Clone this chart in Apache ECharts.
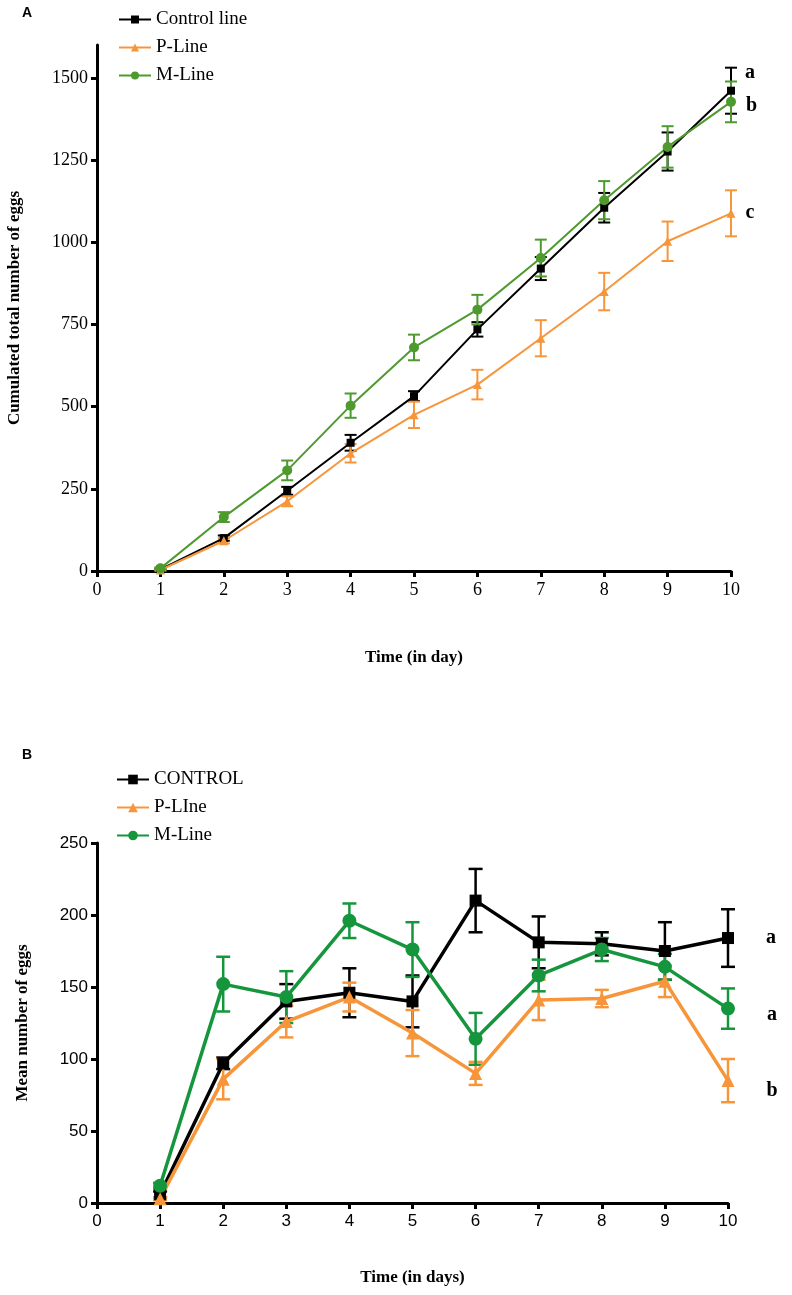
<!DOCTYPE html>
<html>
<head>
<meta charset="utf-8">
<script src="https://cdn.jsdelivr.net/npm/echarts@6/dist/echarts.min.js"></script>
<style>
html,body{margin:0;padding:0;background:#fff;}
#c{width:792px;height:1295px;}
</style>
</head>
<body>
<div id="c"></div>
<script>
// ---------- DATA ----------
const days = [1, 2, 3, 4, 5, 6, 7, 8, 9, 10];
const xTicks = [0, 1, 2, 3, 4, 5, 6, 7, 8, 9, 10];

// Panel A: cumulated total number of eggs
const seriesNamesA = ['Control line', 'P-Line', 'M-Line'];
const controlA = [5, 100, 244, 390, 532, 735, 920, 1105, 1276, 1461];
const controlErrA = [2, 8, 12, 24, 15, 22, 35, 45, 58, 70];
const pLineA = [3, 92, 212, 358, 475, 567, 708, 850, 1003, 1088];
const pLineErrA = [2, 8, 15, 28, 40, 45, 55, 57, 60, 70];
const mLineA = [8, 164, 306, 503, 680, 795, 952, 1128, 1290, 1427];
const mLineErrA = [3, 15, 30, 37, 39, 45, 56, 58, 63, 62];
const lettersA = ['a', 'c', 'b'];
const yTicksA = [0, 250, 500, 750, 1000, 1250, 1500];

// Panel B: mean number of eggs
const seriesNamesB = ['CONTROL', 'P-LIne', 'M-Line'];
const controlB = [6, 97, 140, 146, 140, 210, 181, 180, 175, 184];
const controlErrB = [2, 4, 12, 17, 18, 22, 18, 8, 20, 20];
const pLineB = [3, 86, 126, 143, 118, 90, 141, 142, 154, 85];
const pLineErrB = [1, 14, 11, 10, 16, 8, 14, 6, 11, 15];
const mLineB = [12, 152, 143, 196, 176, 114, 158, 176, 164, 135];
const mLineErrB = [2, 19, 18, 12, 19, 18, 11, 8, 9, 14];
const lettersB = ['a', 'b', 'a'];
const yTicksB = [0, 50, 100, 150, 200, 250];

// ---------- STYLE ----------
const colorsA = ['#000000', '#F7953B', '#4E9A2F'];
const colorsB = ['#000000', '#F7953B', '#15963D'];
const symbolsA = ['rect', 'triangle', 'circle'];
const symSizeA = [8, 9, 10];
const symSizeB = [12, 13, 14];
const letterOffsetA = [[8, -18], [8, 0], [8, 4]];
const letterOffsetB = [[30, 0], [30, 10], [30, 6]];

const serif = '"Liberation Serif", "Times New Roman", serif';
const sans = '"Liberation Sans", Arial, sans-serif';

function errTriples(vals, errs) { return days.map((d, i) => [d, vals[i], errs[i]]); }

function lineData(vals, letter, offset, size) {
  return days.map((d, i) => {
    if (i === vals.length - 1) {
      return {
        value: [d, vals[i]],
        label: {
          show: true, formatter: letter, position: 'right', distance: 2,
          offset: offset, fontFamily: serif, fontWeight: 'bold', fontSize: size, color: '#000'
        }
      };
    }
    return [d, vals[i]];
  });
}

function errSeries(name, data, color, idx, width, cap) {
  return {
    type: 'custom', name: name, xAxisIndex: idx, yAxisIndex: idx,
    data: data, z: 3, silent: true,
    encode: { x: 0, y: 1 },
    renderItem: function (params, api) {
      const x = api.value(0), y = api.value(1), e = api.value(2);
      const top = api.coord([x, y + e]);
      const bot = api.coord([x, y - e]);
      const st = { stroke: color, lineWidth: width };
      return {
        type: 'group',
        children: [
          { type: 'line', shape: { x1: top[0], y1: top[1], x2: bot[0], y2: bot[1] }, style: st },
          { type: 'line', shape: { x1: top[0] - cap, y1: top[1], x2: top[0] + cap, y2: top[1] }, style: st },
          { type: 'line', shape: { x1: bot[0] - cap, y1: bot[1], x2: bot[0] + cap, y2: bot[1] }, style: st }
        ]
      };
    }
  };
}

const valsA = [controlA, pLineA, mLineA];
const errsA = [controlErrA, pLineErrA, mLineErrA];
const valsB = [controlB, pLineB, mLineB];
const errsB = [controlErrB, pLineErrB, mLineErrB];

const series = [];
seriesNamesA.forEach((n, k) => {
  series.push(errSeries('errA|' + n, errTriples(valsA[k], errsA[k]), colorsA[k], 0, 2, 6));
});
seriesNamesA.forEach((n, k) => {
  series.push({
    type: 'line', name: 'A|' + n, xAxisIndex: 0, yAxisIndex: 0,
    data: lineData(valsA[k], lettersA[k], letterOffsetA[k], 20),
    symbol: symbolsA[k], symbolSize: symSizeA[k], showAllSymbol: true,
    lineStyle: { color: colorsA[k], width: 2 },
    itemStyle: { color: colorsA[k] }, z: 4, animation: false
  });
});
seriesNamesB.forEach((n, k) => {
  series.push(errSeries('errB|' + n, errTriples(valsB[k], errsB[k]), colorsB[k], 1, 2.5, 7));
});
seriesNamesB.forEach((n, k) => {
  series.push({
    type: 'line', name: 'B|' + n, xAxisIndex: 1, yAxisIndex: 1,
    data: lineData(valsB[k], lettersB[k], letterOffsetB[k], 20),
    symbol: symbolsA[k], symbolSize: symSizeB[k], showAllSymbol: true,
    lineStyle: { color: colorsB[k], width: 3.5 },
    itemStyle: { color: colorsB[k] }, z: 4, animation: false
  });
});

const axisLineStyle = { lineStyle: { color: '#000', width: 3 } };
const tickStyle = { show: true, length: 6, inside: false, lineStyle: { color: '#000', width: 3 } };
const plain = v => String(v);

const option = {
  backgroundColor: '#fff',
  animation: false,
  grid: [
    { left: 97, top: 45, width: 634, height: 526, containLabel: false, outerBoundsMode: 'none' },
    { left: 97, top: 843, width: 631, height: 360, containLabel: false, outerBoundsMode: 'none' }
  ],
  legend: [
    {
      data: seriesNamesA.map(n => 'A|' + n),
      orient: 'vertical', left: 113, top: 5, itemGap: 9,
      itemWidth: 32, itemHeight: 10,
      formatter: n => n.split('|')[1],
      textStyle: { fontFamily: serif, fontSize: 19, color: '#000' }
    },
    {
      data: seriesNamesB.map(n => 'B|' + n),
      orient: 'vertical', left: 111, top: 765, itemGap: 9,
      itemWidth: 32, itemHeight: 12,
      formatter: n => n.split('|')[1],
      textStyle: { fontFamily: serif, fontSize: 19, color: '#000' }
    }
  ],
  xAxis: [
    {
      type: 'value', gridIndex: 0, min: 0, max: 10, interval: 1,
      axisLine: axisLineStyle, axisTick: tickStyle, splitLine: { show: false },
      axisLabel: { customValues: xTicks, formatter: plain, fontFamily: serif, fontSize: 18, color: '#000', margin: 10 },
      name: 'Time (in day)', nameLocation: 'middle', nameGap: 78,
      nameTextStyle: { fontFamily: serif, fontWeight: 'bold', fontSize: 17, color: '#000' }
    },
    {
      type: 'value', gridIndex: 1, min: 0, max: 10, interval: 1,
      axisLine: axisLineStyle, axisTick: tickStyle, splitLine: { show: false },
      axisLabel: { customValues: xTicks, formatter: plain, fontFamily: sans, fontSize: 17, color: '#000', margin: 10 },
      name: 'Time (in days)', nameLocation: 'middle', nameGap: 66,
      nameTextStyle: { fontFamily: serif, fontWeight: 'bold', fontSize: 17, color: '#000' }
    }
  ],
  yAxis: [
    {
      type: 'value', gridIndex: 0, min: 0, max: 1600,
      axisLine: { show: true, lineStyle: { color: '#000', width: 3 } },
      axisTick: Object.assign({ customValues: yTicksA }, tickStyle),
      splitLine: { show: false },
      axisLabel: { customValues: yTicksA, formatter: plain, fontFamily: serif, fontSize: 18, color: '#000', margin: 9 },
      name: 'Cumulated total number of eggs', nameLocation: 'middle', nameGap: 74, nameRotate: 90,
      nameTextStyle: { fontFamily: serif, fontWeight: 'bold', fontSize: 17, color: '#000' }
    },
    {
      type: 'value', gridIndex: 1, min: 0, max: 250, interval: 50,
      axisLine: { show: true, lineStyle: { color: '#000', width: 3 } },
      axisTick: tickStyle, splitLine: { show: false },
      axisLabel: { formatter: plain, fontFamily: sans, fontSize: 17, color: '#000', margin: 9 },
      name: 'Mean number of eggs', nameLocation: 'middle', nameGap: 66, nameRotate: 90,
      nameTextStyle: { fontFamily: serif, fontWeight: 'bold', fontSize: 17, color: '#000' }
    }
  ],
  graphic: [
    { type: 'text', left: 22, top: 6, style: { text: 'A', font: 'bold 14px ' + sans, fill: '#000' } },
    { type: 'text', left: 22, top: 748, style: { text: 'B', font: 'bold 14px ' + sans, fill: '#000' } }
  ],
  series: series
};

const chart = echarts.init(document.getElementById('c'), null, { renderer: 'canvas' });
chart.setOption(option);
</script>
</body>
</html>
